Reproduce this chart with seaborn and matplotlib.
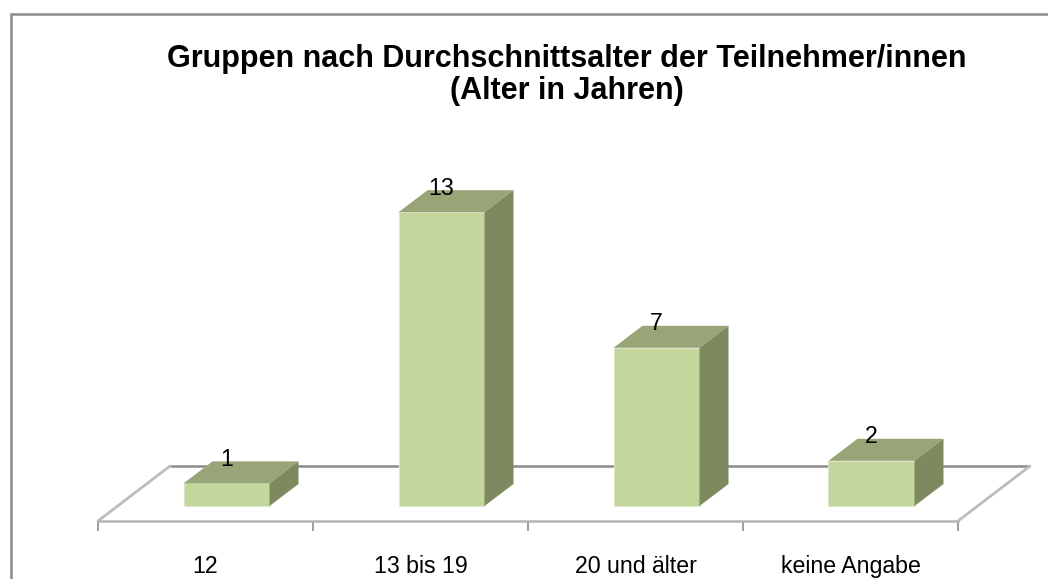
# -*- coding: utf-8 -*-
import matplotlib
matplotlib.use('Agg')
import matplotlib.pyplot as plt
from matplotlib.patches import Polygon, Rectangle
import seaborn as sns
import pandas as pd

categories = ['12', '13 bis 19', '20 und älter', 'keine Angabe']
values = [1, 13, 7, 2]
title = 'Gruppen nach Durchschnittsalter der Teilnehmer/innen\n(Alter in Jahren)'

W, H = 1048, 579
PX_PER_UNIT = 22.6
AX_L, AX_R, AX_B, AX_T = 98, 958, 521, 13
PX_PER_CAT = (AX_R - AX_L) / len(categories)

# 3d look, all in pixels
BAR_SHIFT = 21 / PX_PER_CAT
BAR_LIFT = 15 / PX_PER_UNIT
DEPTH_X = 29 / PX_PER_CAT
DEPTH_Y = 22 / PX_PER_UNIT
FLOOR_X = 72 / PX_PER_CAT
FLOOR_Y = 55 / PX_PER_UNIT

FRONT = '#C3D69B'
TOP = '#98A677'
SIDE = '#7D8A60'

sns.set_theme(style='white')
plt.rcParams['font.family'] = ['Liberation Sans', 'DejaVu Sans']

df = pd.DataFrame({'group': categories, 'n': values})

fig = plt.figure(figsize=(W / 100, H / 100), dpi=100)
ax = fig.add_axes([AX_L / W, 1 - AX_B / H, (AX_R - AX_L) / W, (AX_B - AX_T) / H])
ax.patch.set_alpha(0)

sns.barplot(data=df, x='group', y='n', color=FRONT, saturation=1, width=0.4,
            errorbar=None, bottom=BAR_LIFT, edgecolor='#DCE6C8', linewidth=0.8,
            zorder=3, ax=ax)

ax.set_xlim(-0.5, len(categories) - 0.5)
ax.set_ylim(0, (AX_B - AX_T) / PX_PER_UNIT)

# floor of the 3d chart
x0, x1 = ax.get_xlim()
ax.plot([x0 + FLOOR_X, x1 + FLOOR_X], [FLOOR_Y, FLOOR_Y], color='#8C8C8C', lw=1.8,
        zorder=1, clip_on=False, solid_capstyle='butt')
ax.plot([x0, x0 + FLOOR_X], [0, FLOOR_Y], color='#BDBDBD', lw=2, zorder=1, clip_on=False)
ax.plot([x1, x1 + FLOOR_X], [0, FLOOR_Y], color='#BDBDBD', lw=2, zorder=1, clip_on=False)

# top and side faces from the bars seaborn drew
for bar in ax.containers[0]:
    bar.set_x(bar.get_x() + BAR_SHIFT)
    l, r = bar.get_x(), bar.get_x() + bar.get_width()
    b, t = bar.get_y(), bar.get_y() + bar.get_height()
    ax.add_patch(Polygon([(l, t), (l + DEPTH_X, t + DEPTH_Y), (r + DEPTH_X, t + DEPTH_Y), (r, t)],
                         facecolor=TOP, edgecolor='none', zorder=3, clip_on=False))
    ax.add_patch(Polygon([(r, b), (r + DEPTH_X, b + DEPTH_Y), (r + DEPTH_X, t + DEPTH_Y), (r, t)],
                         facecolor=SIDE, edgecolor='none', zorder=3, clip_on=False))

ax.bar_label(ax.containers[0], labels=[str(v) for v in values], padding=9,
             fontsize=16.7, color='black', zorder=5)

# axis
sns.despine(ax=ax, left=True, top=True, right=True, bottom=False)
ax.spines['bottom'].set_color('#B4B4B4')
ax.spines['bottom'].set_linewidth(1.8)
ax.set_yticks([])
ax.set_xlabel('')
ax.set_ylabel('')
ax.set_xticks(range(len(categories)), categories)
ax.tick_params(axis='x', which='major', length=0, pad=24.5, labelsize=16.7, labelcolor='black')
ax.set_xticks([i - 0.5 for i in range(len(categories) + 1)], minor=True)
ax.tick_params(axis='x', which='minor', bottom=True, length=7, width=1.2, color='#8C8C8C')

fig.text(567 / W, 1 - 75 / H, title, ha='center', va='center', fontsize=22,
         fontweight='bold', color='black', linespacing=1.12)

# chart frame, runs off the picture at right and bottom
fig.add_artist(Rectangle((10.5 / W, -0.1), 1.2, 1.1 - 13.5 / H, transform=fig.transFigure,
                         facecolor='none', edgecolor='#8C8C8C', linewidth=1.8))

fig.savefig('out.png', dpi=100)
